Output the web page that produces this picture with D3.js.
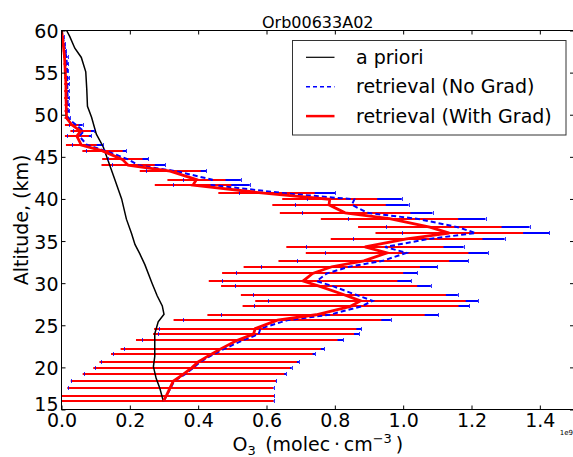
<!DOCTYPE html>
<html>
<head>
<meta charset="utf-8">
<script src="https://cdn.jsdelivr.net/npm/d3@7/dist/d3.min.js"></script>
<style>
  body { margin: 0; background: #fff; }
  svg { display: block; font-family: "DejaVu Sans", sans-serif; }
</style>
</head>
<body>
<svg id="chart" width="573" height="457"></svg>
<script>
//retrieval grid altitudes (km)
var altitude = [
    16.0, 16.65, 17.6, 18.35, 19.2, 19.95, 20.65, 21.6, 22.2, 23.2,
    23.95, 24.6, 25.6, 26.25, 27.25, 27.9, 28.65, 29.65, 30.25, 31.15,
    31.95, 32.65, 33.6, 34.3, 35.25, 35.95, 36.65, 37.65, 38.35, 39.3,
    39.95, 40.65, 41.65, 42.3, 43.3, 44.0, 44.7, 45.7, 46.4, 47.45,
    48.05, 48.8, 49.6, 50.4, 51.2, 52.0, 52.8, 53.6, 54.4, 55.2,
    56.0, 56.8, 57.6, 58.4, 59.2, 60.0
];

//retrieval with gradient (x 1e9 molec/cm3)
var withGrad = [
    0.298, 0.307, 0.318, 0.327, 0.357, 0.381, 0.400, 0.440, 0.466, 0.513,
    0.562, 0.567, 0.632, 0.745, 0.846, 0.875, 0.825, 0.754, 0.707, 0.735,
    0.791, 0.885, 0.953, 0.888, 1.010, 1.135, 1.078, 0.960, 0.830, 0.783,
    0.785, 0.600, 0.385, 0.395, 0.318, 0.195, 0.178, 0.120, 0.058, 0.045,
    0.056, 0.030, 0.015, 0.014, 0.014, 0.013, 0.013, 0.013, 0.012, 0.011,
    0.010, 0.009, 0.007, 0.005, 0.003, 0.000
];

//retrieval without gradient (x 1e9 molec/cm3)
var noGrad = [
    0.299, 0.308, 0.320, 0.329, 0.362, 0.386, 0.406, 0.447, 0.476, 0.530,
    0.577, 0.582, 0.660, 0.785, 0.878, 0.911, 0.860, 0.794, 0.747, 0.776,
    0.842, 0.940, 1.010, 0.947, 1.075, 1.212, 1.160, 1.040, 0.895, 0.850,
    0.857, 0.660, 0.439, 0.440, 0.335, 0.225, 0.195, 0.130, 0.075, 0.052,
    0.065, 0.042, 0.018, 0.018, 0.018, 0.018, 0.017, 0.017, 0.017, 0.016,
    0.016, 0.014, 0.011, 0.008, 0.004, 0.000
];

//retrieval error, read as the same for both retrievals
var retrievalError = [
    0.322, 0.315, 0.301, 0.300, 0.295, 0.288, 0.289, 0.295, 0.293, 0.295,
    0.294, 0.296, 0.304, 0.318, 0.316, 0.308, 0.300, 0.287, 0.276, 0.265,
    0.258, 0.250, 0.238, 0.230, 0.222, 0.216, 0.210, 0.201, 0.191, 0.166,
    0.139, 0.141, 0.112, 0.085, 0.089, 0.078, 0.059, 0.059, 0.045, 0.035,
    0.030, 0.020, 0.006, 0.005, 0.005, 0.005, 0.005, 0.005, 0.004, 0.004,
    0.004, 0.004, 0.003, 0.003, 0.002, 0.001
];

//a priori profile
var aprioriAlt = [
    16.0, 17.5, 18.7, 20.1, 21.3, 22.5, 24.0, 25.4, 26.3, 27.3,
    28.5, 30.0, 32.2, 33.5, 34.6, 35.9, 37.6, 40.0, 42.3, 44.6,
    46.2, 47.7, 49.7, 51.0, 53.0, 55.1, 56.8, 57.9, 59.3, 60.0
];
var aprioriVal = [
    0.298, 0.288, 0.277, 0.269, 0.273, 0.273, 0.273, 0.283, 0.300, 0.295,
    0.280, 0.265, 0.244, 0.229, 0.215, 0.205, 0.190, 0.176, 0.156, 0.136,
    0.122, 0.102, 0.088, 0.076, 0.074, 0.071, 0.058, 0.039, 0.024, 0.015
];

//axis ticks
var xTicks = [0.0, 0.2, 0.4, 0.6, 0.8, 1.0, 1.2, 1.4];
var yTicks = [15, 20, 25, 30, 35, 40, 45, 50, 55, 60];

var plot = { left: 61.5, top: 30.5, right: 574, bottom: 409.5 },
    svg = d3.select('#chart'),
    x = d3.scaleLinear().domain([0, 1.5]).range([plot.left, plot.right]),
    y = d3.scaleLinear().domain([15, 60]).range([plot.bottom, plot.top]),
    capHalf = 2;

//snap a bar row to the pixel grid, like matplotlib does
function barY(d) { return Math.round(y(d.alt)); }

//build level rows
var levels = altitude.map(function (a, i) {
    return { alt: a, wg: withGrad[i], ng: noGrad[i], err: retrievalError[i] };
});

//clip for data
svg.append('clipPath').attr('id', 'plotClip')
    .append('rect')
    .attr('x', plot.left).attr('y', plot.top)
    .attr('width', plot.right - plot.left).attr('height', plot.bottom - plot.top);

var dataG = svg.append('g').attr('clip-path', 'url(#plotClip)');

//draws horizontal error bars for one serie
function drawBars(key, color, width) {
    dataG.append('g').selectAll('line')
        .data(levels)
        .enter().append('line')
        .attr('x1', function (d) { return x(d[key] - d.err); })
        .attr('x2', function (d) { return x(d[key] + d.err); })
        .attr('y1', barY)
        .attr('y2', barY)
        .attr('stroke', color)
        .attr('stroke-width', width);
}

//draws caps of the error bars
function drawCaps(key, color) {
    var g = dataG.append('g');
    [-1, 1].forEach(function (s) {
        g.selectAll('line.c' + s)
            .data(levels)
            .enter().append('line')
            .attr('class', 'c' + s)
            .attr('x1', function (d) { return Math.round(x(d[key] + s * d.err)) + 0.5; })
            .attr('x2', function (d) { return Math.round(x(d[key] + s * d.err)) + 0.5; })
            .attr('y1', function (d) { return barY(d) - capHalf; })
            .attr('y2', function (d) { return barY(d) + capHalf; })
            .attr('stroke', color)
            .attr('stroke-opacity', 0.8)
            .attr('stroke-width', 1);
    });
}

var line = d3.line()
    .x(function (d) { return x(d[0]); })
    .y(function (d) { return y(d[1]); });

//bars first, lines on top (matplotlib zorder)
drawBars('ng', '#0000ff', 2);
drawBars('wg', '#ff0000', 2);

dataG.append('path')
    .attr('d', line(aprioriAlt.map(function (a, i) { return [aprioriVal[i], a]; })))
    .attr('fill', 'none').attr('stroke', '#000').attr('stroke-width', 1.5);

dataG.append('path')
    .attr('d', line(levels.map(function (d) { return [d.ng, d.alt]; })))
    .attr('fill', 'none').attr('stroke', '#0000ff').attr('stroke-width', 2)
    .attr('stroke-dasharray', '5,3');
drawCaps('ng', '#0000ff');

dataG.append('path')
    .attr('d', line(levels.map(function (d) { return [d.wg, d.alt]; })))
    .attr('fill', 'none').attr('stroke', '#ff0000').attr('stroke-width', 2.8)
    .attr('stroke-linejoin', 'miter');

//axes with inward ticks on all four sides
var fontSize = 19;
svg.append('g')
    .attr('transform', 'translate(0,' + plot.bottom + ')')
    .call(d3.axisBottom(x).tickValues(xTicks).tickSize(-4).tickSizeOuter(0)
        .tickPadding(4).tickFormat(d3.format('.1f')));
svg.append('g')
    .attr('transform', 'translate(0,' + plot.top + ')')
    .call(d3.axisTop(x).tickValues(xTicks).tickSize(-4).tickSizeOuter(0).tickFormat(''));
var leftAxis = svg.append('g')
    .attr('transform', 'translate(' + plot.left + ',0)')
    .call(d3.axisLeft(y).tickValues(yTicks).tickSize(-4).tickSizeOuter(0)
        .tickPadding(3).tickFormat(d3.format('d')));
svg.append('g')
    .attr('transform', 'translate(' + plot.right + ',0)')
    .call(d3.axisRight(y).tickValues(yTicks).tickSize(-4).tickSizeOuter(0).tickFormat(''));

svg.selectAll('.domain').remove();
svg.selectAll('.tick line').attr('stroke', '#000');
svg.selectAll('.tick text')
    .attr('font-family', '"DejaVu Sans", sans-serif')
    .attr('font-size', fontSize)
    .attr('fill', '#000');
leftAxis.selectAll('.tick text').attr('dy', '0.37em');
//the lowest altitude label sits a little higher in the original
leftAxis.selectAll('.tick text').filter(function (d) { return d === 15; }).attr('dy', '0.05em');

//frame
svg.append('rect')
    .attr('x', plot.left).attr('y', plot.top)
    .attr('width', plot.right - plot.left).attr('height', plot.bottom - plot.top)
    .attr('fill', 'none').attr('stroke', '#000').attr('stroke-width', 1);

//title
svg.append('text')
    .attr('x', (plot.left + plot.right) / 2).attr('y', 27.5)
    .attr('text-anchor', 'middle').attr('font-size', 16)
    .text('Orb00633A02');

//y label
svg.append('text')
    .attr('transform', 'translate(28,' + ((plot.top + plot.bottom) / 2) + ') rotate(-90)')
    .attr('text-anchor', 'middle').attr('font-size', fontSize)
    .text('Altitude, (km)');

//x label with mathtext style sub/superscript
var xl = svg.append('text')
    .attr('x', (plot.left + plot.right) / 2).attr('y', 451)
    .attr('text-anchor', 'middle').attr('font-size', fontSize);
xl.append('tspan').text('O');
xl.append('tspan').attr('dy', 4).attr('font-size', 13).text('3');
xl.append('tspan').attr('dy', -4).text('\u2002(molec\u2009\u00b7\u2009cm');
xl.append('tspan').attr('dy', -8).attr('font-size', 13).text('\u22123');
xl.append('tspan').attr('dy', 8).text('\u2009)');

//offset text
svg.append('text')
    .attr('x', 573).attr('y', 435)
    .attr('text-anchor', 'end').attr('font-size', 7)
    .text('1e9');

//legend
var legendItems = [
    { label: 'a priori', color: '#000', width: 1.2, dash: null },
    { label: 'retrieval (No Grad)', color: '#0000ff', width: 1.5, dash: '4,3' },
    { label: 'retrieval (With Grad)', color: '#ff0000', width: 2.5, dash: null }
];
var legend = svg.append('g');
legend.append('rect')
    .attr('x', 292.5).attr('y', 40.5).attr('width', 273.5).attr('height', 94.5)
    .attr('fill', '#fff').attr('stroke', '#333').attr('stroke-width', 1);
var rows = legend.selectAll('g.row')
    .data(legendItems)
    .enter().append('g')
    .attr('class', 'row')
    .attr('transform', function (d, i) { return 'translate(0,' + (57.3 + i * 29.4) + ')'; });
rows.append('line')
    .attr('x1', 306).attr('x2', 334.5).attr('y1', 0).attr('y2', 0)
    .attr('stroke', function (d) { return d.color; })
    .attr('stroke-width', function (d) { return d.width; })
    .attr('stroke-dasharray', function (d) { return d.dash; });
rows.append('text')
    .attr('x', 356).attr('y', 6.7)
    .attr('font-size', fontSize)
    .text(function (d) { return d.label; });
</script>
</body>
</html>
